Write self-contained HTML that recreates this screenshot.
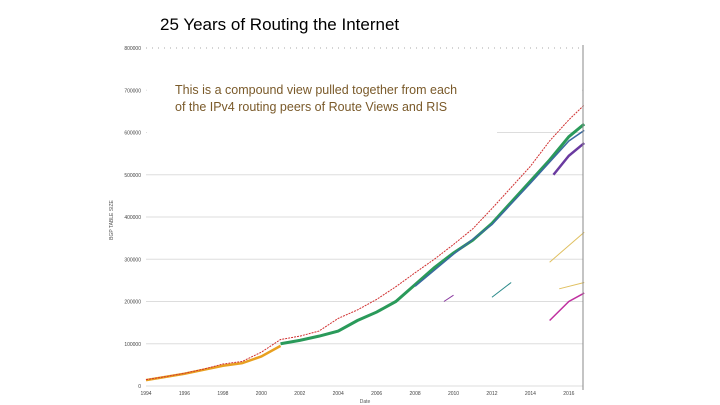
<!DOCTYPE html>
<html><head><meta charset="utf-8"><style>
html,body{margin:0;padding:0;background:#fff;width:720px;height:405px;overflow:hidden;font-family:"Liberation Sans",sans-serif}
</style></head><body>
<svg width="720" height="405" id="chart" font-family="Liberation Sans, sans-serif">
<text x="160" y="30" font-size="17" fill="#000">25 Years of Routing the Internet</text>
<g id="grid"></g>
<rect x="147" y="60" width="435" height="66" fill="#fff"/>
<rect x="147" y="120" width="350" height="16" fill="#fff"/>
<g id="series"></g>
<line x1="583" y1="45" x2="583" y2="390" stroke="#888" stroke-width="1"/>
<text x="113" y="220" font-size="5" fill="#555" transform="rotate(-90 113 220)" text-anchor="middle">BGP TABLE SIZE</text>
<text x="365" y="403" font-size="5" fill="#555" text-anchor="middle">Date</text>
<text x="175" y="94" font-size="12.5" fill="#7a5a2a">This is a compound view pulled together from each</text>
<text x="175" y="111" font-size="12.5" fill="#7a5a2a">of the IPv4 routing peers of Route Views and RIS</text>
</svg>
<script>
const yTicks=[0,100000,200000,300000,400000,500000,600000,700000,800000];
const yTickLabels=["0","100000","200000","300000","400000","500000","600000","700000","800000"];
const xTicks=[1994,1996,1998,2000,2002,2004,2006,2008,2010,2012,2014,2016];
const xTickLabels=["1994","1996","1998","2000","2002","2004","2006","2008","2010","2012","2014","2016"];
const redYears=[1994,1995,1996,1997,1998,1999,2000,2001,2002,2003,2004,2005,2006,2007,2008,2009,2010,2011,2012,2013,2014,2015,2016,2016.8];
const redVals=[15000,22000,30000,40000,52000,58000,80000,110000,118000,130000,160000,180000,205000,235000,268000,300000,335000,372000,420000,470000,520000,580000,630000,665000];
const orangeYears=[1994,1996,1998,1999,2000,2001];
const orangeVals=[14000,29000,48000,54000,70000,95000];
const greenYears=[2001,2002,2003,2004,2005,2006,2007,2008,2009,2010,2011,2012,2013,2014,2015,2016,2016.8];
const greenVals=[100000,108000,118000,130000,155000,175000,200000,240000,280000,315000,345000,385000,435000,485000,535000,590000,620000];
const blueYears=[2008,2010,2012,2014,2016,2016.8];
const blueVals=[236000,312000,382000,480000,580000,605000];
const purpleYears=[2015.2,2016,2016.8];
const purpleVals=[500000,545000,575000];
const magentaYears=[2015,2016,2016.8];
const magentaVals=[155000,200000,220000];
const yellowYears=[2015,2016.8];
const yellowVals=[293000,364000];
const yellow2Years=[2015.5,2016.8];
const yellow2Vals=[230000,245000];
const tealYears=[2012,2013];
const tealVals=[210000,245000];
const violetYears=[2009.5,2010];
const violetVals=[200000,215000];
const X=v=>146+(v-1994)*19.22;
const Y=v=>386-v/100000*42.25;
const NS="http://www.w3.org/2000/svg";
const g=document.getElementById('grid'), s=document.getElementById('series');
yTicks.forEach((t,i)=>{
 const l=document.createElementNS(NS,'line');
 
 
 l.setAttribute('x1',146);l.setAttribute('x2',583);l.setAttribute('y1',Y(t));l.setAttribute('y2',Y(t));
 l.setAttribute('stroke',i===8?'#aaa':'#ddd');l.setAttribute('stroke-width',1);
 if(i===8)l.setAttribute('stroke-dasharray','1 5');
 g.appendChild(l);
 const tx=document.createElementNS(NS,'text');
 
 
 tx.setAttribute('x',141);tx.setAttribute('y',Y(t)+2);tx.setAttribute('font-size',5);tx.setAttribute('text-anchor','end');tx.setAttribute('fill','#444');
 tx.textContent=yTickLabels[i];g.appendChild(tx);
});
xTicks.forEach((t,i)=>{
 const tx=document.createElementNS(NS,'text');
 
 
 tx.setAttribute('x',X(t));tx.setAttribute('y',395);tx.setAttribute('font-size',5);tx.setAttribute('text-anchor','middle');tx.setAttribute('fill','#444');
 tx.textContent=xTickLabels[i];g.appendChild(tx);
});
function line(xs,vs,color,w,name,dash){
 const p=document.createElementNS(NS,'polyline');
 
 
 p.setAttribute('points',xs.map((x,i)=>X(x)+','+Y(vs[i])).join(' '));
 p.setAttribute('fill','none');p.setAttribute('stroke',color);p.setAttribute('stroke-width',w);
 if(dash)p.setAttribute('stroke-dasharray',dash);
 s.appendChild(p);
}
line(orangeYears,orangeVals,'#e8a020',2.5,'orange-series');
line(greenYears,greenVals,'#2a9a5a',3,'green-series');
line(blueYears,blueVals,'#3a6aa0',1.5,'blue-series');
line(purpleYears,purpleVals,'#6a3aa0',2.5,'purple-series');
line(magentaYears,magentaVals,'#c030a0',1.5,'magenta-series');
line(yellowYears,yellowVals,'#e0c060',1,'yellow-series');
line(yellow2Years,yellow2Vals,'#e0c060',1,'yellow-series-2');
line(tealYears,tealVals,'#2a8a8a',1,'teal-series');
line(violetYears,violetVals,'#8a3aa0',1,'violet-series');
line(redYears,redVals,'#d03030',1,'red-series','2 1');
</script>
</body></html>
